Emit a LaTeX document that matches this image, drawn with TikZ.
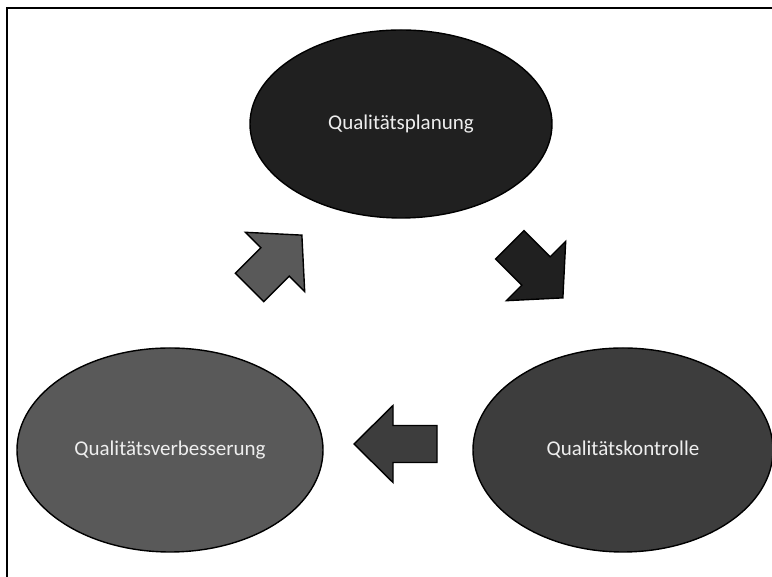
\documentclass[tikz,border=0pt]{standalone}
\usepackage{fontspec}
\setmainfont{Carlito}
\usetikzlibrary{shapes.geometric}
\definecolor{cTop}{HTML}{202020}
\definecolor{cRight}{HTML}{3D3D3D}
\definecolor{cLeft}{HTML}{595959}
\definecolor{cTxt}{HTML}{EEEEEE}
\tikzset{
  phase/.style={ellipse, draw=black, line width=1.4pt, inner sep=0pt,
    text=cTxt, font=\fontsize{21}{24}\selectfont},
  blockarr/.style={draw=black, line width=1.4pt, line join=miter},
  framestyle/.style={draw=black, line width=2pt}
}
% #1 fill, #2 x, #3 y, #4 angle, #5 head length, #6 head half width, #7 shaft half width, #8 shaft length
\newcommand{\myblockarrow}[8]{%
  \begin{scope}[shift={(#2,#3)}, rotate=#4]
    \draw[blockarr, fill=#1] (0,-#6) -- (#5,0) -- (0,#6) -- (0,#7) -- (-#8,#7) -- (-#8,-#7) -- (0,-#7) -- cycle;
  \end{scope}}
\begin{document}
\begin{tikzpicture}[x=1pt, y=1pt]
\useasboundingbox (0,0) rectangle (772,577);
% frame (left and top)
\coordinate (fbl) at (7,0);
\coordinate (ftl) at (7,569);
\coordinate (ftr) at (772,569);
\draw[framestyle] (fbl) -- (ftl) -- (ftr);
% phases
\node[phase, fill=cTop, minimum width=302, minimum height=188] (plan) at (401,453) {Qualitätsplanung};
\node[phase, fill=cRight, minimum width=300, minimum height=204] (kontr) at (623,127) {Qualitätskontrolle};
\node[phase, fill=cLeft, minimum width=306, minimum height=204] (verb) at (170,127) {Qualitätsverbesserung};
% block arrows
\myblockarrow{cLeft}{275}{315}{45}{38}{42}{20}{36}
\myblockarrow{cTop}{536}{306}{-45}{38}{42}{20}{37}
\myblockarrow{cRight}{393}{133}{180}{39}{38.5}{18.5}{44}
\end{tikzpicture}
\end{document}
